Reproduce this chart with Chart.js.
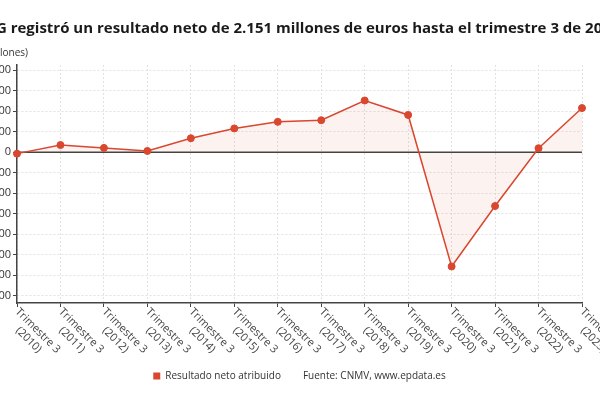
<!DOCTYPE html>
<html><head><meta charset="utf-8">
<script src="https://cdn.jsdelivr.net/npm/chart.js@4.4.0/dist/chart.umd.min.js"></script>
<style>
html,body{margin:0;padding:0;overflow:hidden;background:#fff;width:600px;height:400px;}
#wrap{position:absolute;left:-50px;top:0;width:700px;height:400px;}
</style></head><body>
<div id="wrap"><canvas id="c" width="700" height="400"></canvas></div>
<script>
const titleText = 'IAG registró un resultado neto de 2.151 millones de euros hasta el trimestre 3 de 2023';
const unitText = '(Millones)';
const quarterLabel = 'Trimestre 3';
const years = ['2010','2011','2012','2013','2014','2015','2016','2017','2018','2019','2020','2021','2022','2023'];
const values = [-70, 350, 210, 60, 680, 1160, 1480, 1560, 2520, 1815, -5570, -2625, 195, 2151];
const yTicks = [4000, 3000, 2000, 1000, 0, -1000, -2000, -3000, -4000, -5000, -6000, -7000];
const seriesName = 'Resultado neto atribuido';
const sourceText = 'Fuente: CNMV, www.epdata.es';

const categories = years.map(y => [quarterLabel, '(' + y + ')']);
const lineColor = '#d9472f';
const fillColor = 'rgba(217,71,47,0.07)';

function fmt(v){
  const s = String(Math.abs(v)).replace(/\B(?=(\d{3})+(?!\d))/g, '.');
  return (v < 0 ? '-' : '') + s;
}

Chart.defaults.font.family = '"Open Sans", sans-serif';

const deco = {
  id: 'deco',
  beforeDatasetsDraw(chart){
    const {ctx, chartArea, scales:{y}} = chart;
    const py = y.getPixelForValue(0);
    ctx.save();
    ctx.strokeStyle = '#444'; ctx.lineWidth = 1.5;
    ctx.beginPath(); ctx.moveTo(chartArea.left, py); ctx.lineTo(chartArea.right, py); ctx.stroke();
    ctx.restore();
  },
  afterDraw(chart){
    const {ctx, chartArea, scales:{x}} = chart;
    ctx.save();
    ctx.fillStyle = '#1a1a1a';
    ctx.font = 'bold 15px "Open Sans"';
    ctx.textAlign = 'center'; ctx.textBaseline = 'middle';
    ctx.fillText(titleText, chart.width / 2, 28.5);
    ctx.font = '10px "Open Sans"'; ctx.fillStyle = '#333'; ctx.textAlign = 'right';
    ctx.fillText(unitText, chartArea.left + 11, 53);
    ctx.font = '11px "Open Sans"'; ctx.fillStyle = '#444';
    ctx.textAlign = 'center'; ctx.textBaseline = 'middle';
    categories.forEach((lines, i) => {
      const px = x.getPixelForTick(i);
      const w = Math.max(...lines.map(l => ctx.measureText(l).width));
      ctx.save();
      ctx.translate(px, x.top + 7);
      ctx.rotate(Math.PI / 4);
      lines.forEach((l, j) => ctx.fillText(l, w / 2, j * 13));
      ctx.restore();
    });
    ctx.restore();
  }
};

new Chart(document.getElementById('c'), {
  type: 'line',
  data: {
    labels: categories,
    datasets: [{
      label: seriesName,
      data: values,
      borderColor: lineColor,
      backgroundColor: fillColor,
      fill: 'origin',
      borderWidth: 1.5,
      tension: 0,
      pointRadius: 3.5,
      pointHoverRadius: 3.5,
      pointBackgroundColor: lineColor,
      pointBorderColor: lineColor,
      pointBorderWidth: 1
    }]
  },
  options: {
    responsive: false,
    animation: false,
    layout: { padding: { top: 65, left: 0, right: 68, bottom: 9 } },
    plugins: {
      title: { display: false },
      tooltip: { enabled: false },
      legend: {
        position: 'bottom',
        fullSize: false,
        labels: {
          boxWidth: 7, boxHeight: 7, padding: 10, color: '#333',
          font: { size: 10 },
          generateLabels(chart){
            const items = Chart.defaults.plugins.legend.labels.generateLabels(chart);
            items.forEach(it => { it.fillStyle = lineColor; it.strokeStyle = lineColor; it.lineWidth = 0; });
            items.push({ text: sourceText, fillStyle: 'rgba(0,0,0,0)', strokeStyle: 'rgba(0,0,0,0)', lineWidth: 0, hidden: false, datasetIndex: -1 });
            return items;
          }
        }
      }
    },
    scales: {
      x: {
        offset: false,
        afterFit(s){ s.height = 58; },
        ticks: { display: false },
        grid: { color: '#e2e2e2', tickLength: 4, tickColor: '#444', tickWidth: 1 },
        border: { color: '#444', width: 1.5, dash: [2, 2] }
      },
      y: {
        min: -7350, max: 4250,
        afterFit(s){ s.width = 67; },
        afterBuildTicks(s){ s.ticks = yTicks.map(v => ({ value: v })); },
        ticks: { color: '#333', font: { size: 11 }, padding: 2, callback: v => fmt(v) },
        grid: { color: '#e2e2e2', tickLength: 4, tickColor: '#444', tickWidth: 1 },
        border: { color: '#444', width: 1.5, dash: [2, 2] }
      }
    }
  },
  plugins: [deco]
});
</script>
</body></html>
